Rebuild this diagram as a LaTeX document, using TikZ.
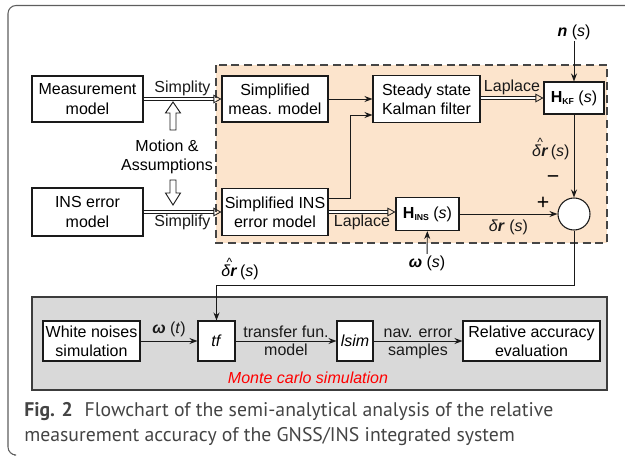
\documentclass[tikz,border=0pt]{standalone}
\usepackage{fontspec}
\setmainfont{Liberation Sans}
\newfontfamily\capfont{PT Sans}
\usetikzlibrary{arrows.meta, calc, positioning}
\definecolor{ink}{HTML}{1A1A1A}
\definecolor{frm}{HTML}{5E5E5E}
\definecolor{peach}{HTML}{FCE4CC}
\definecolor{zoneline}{HTML}{454545}
\definecolor{mcgray}{HTML}{D9D9D9}
\definecolor{capink}{HTML}{444444}
\tikzset{
  blk/.style={draw=ink, line width=0.8pt, fill=white, inner sep=0pt, align=center, font=\fontsize{12}{14.4}\selectfont},
  sz/.style 2 args={minimum width=#1*0.75pt, minimum height=#2*0.75pt},
  arr/.style={ink, line width=0.7pt, -{Stealth[length=6pt,width=4.5pt]}},
  dbl/.style={ink, double, double distance=1.6pt, line width=0.6pt, -{Triangle[open,length=6pt,width=6.5pt]}},
  lbl/.style={font=\fontsize{12}{14.4}\selectfont, inner sep=1pt, align=center},
  hol/.style={ink, line width=0.7pt, fill=white, line join=miter}
}
\newcommand{\vb}[1]{\textbf{\textit{#1}}}
\newcommand{\subtx}[1]{\raisebox{-0.3ex}{\fontsize{6.5}{7}\selectfont\bfseries #1}}
\newcommand{\drh}{\setbox0\hbox{\textit{δ}\vb{r}}\rlap{\hbox to\wd0{\hss\raisebox{0.62em}{\fontsize{9}{9}\selectfont\textasciicircum}\hss}}\box0}

\begin{document}
\begin{tikzpicture}[x=0.75pt, y=-0.75pt]
  \useasboundingbox (0,0) rectangle (625,458);
  \draw[frm, line width=0.8pt, rounded corners=6pt] (625,5.5) -- (8,5.5) -- (8,455) -- (14,455);

  \draw[zoneline, fill=peach, line width=1.6pt, dash pattern=on 6pt off 3.5pt] (216,65) rectangle (607,243);
  \draw[ink!85, fill=mcgray, line width=0.8pt] (32,297) rectangle (607,390);

  \node[blk, sz={111}{46}] (meas) at (87.5,99) {Measurement\\model};
  \node[blk, sz={111}{48}] (ins) at (87.5,212) {INS error\\model};
  \node[blk, sz={106}{46}] (smeas) at (275,99) {Simplified\\meas. model};
  \node[blk, sz={106}{47}] (sins) at (275,212) {Simplified INS\\error model};
  \node[blk, sz={107}{47}] (kal) at (426.5,99) {Steady state\\Kalman filter};
  \node[blk, sz={60}{32}] (hkf) at (574,98) {\textbf{H}\subtx{KF} (\textit{s})};
  \node[blk, sz={63}{33}] (hins) at (427.5,214) {\textbf{H}\subtx{INS} (\textit{s})};
  \node[draw=ink, line width=0.8pt, fill=white, circle, minimum size=32*0.75pt, inner sep=0pt] (sum) at (574,214) {};

  \node[blk, sz={97}{40}] (wn) at (91.5,341) {White noises\\simulation};
  \node[blk, sz={37}{40}] (tf) at (216.5,341) {\textit{tf}};
  \node[blk, sz={36}{40}] (lsim) at (355,341) {\textit{lsim}};
  \node[blk, sz={137}{40}] (rae) at (531.5,341) {Relative accuracy\\evaluation};

  \node[lbl] (ns) at (574,32) {\vb{n} (\textit{s})};
  \node[lbl] (ws) at (427,263) {\vb{ω} (\textit{s})};
  \node[lbl] (mot) at (167,156.5) {Motion \&\\Assumptions};
  \node[lbl, font=\fontsize{16}{16}\selectfont] (minus) at (553,180) {−};
  \node[lbl, font=\fontsize{16}{16}\selectfont] (plus) at (543,203) {+};
  \node[lbl] (drl) at (240,269) {\drh\,(\textit{s})};
  \node[lbl, text=red, font=\fontsize{12}{14.4}\selectfont\itshape] (mc) at (308,378) {Monte carlo simulation};

  \draw[hol] (170,130) -- (170,113) -- (165.5,113) -- (173,102) -- (180.5,113) -- (176,113) -- (176,130) -- cycle;
  \draw[hol] (170,180) -- (170,193) -- (165.5,193) -- (173,205) -- (180.5,193) -- (176,193) -- (176,180) -- cycle;

  \draw[dbl] (meas) -- (smeas) node[lbl, midway, above=1pt] {Simplity};
  \draw[dbl] (ins) -- (sins) node[lbl, midway, below=1pt] {Simplify};
  \draw[arr] (smeas) -- (kal);
  \draw[arr] ($(sins.east)+(0,-14)$) -| ($(kal.west)+(-22,16)$) -- ($(kal.west)+(0,16)$);
  \draw[dbl] (kal.east |- hkf.west) -- (hkf.west) node[lbl, midway, above=1pt] {Laplace};
  \draw[dbl] (sins.east) -- (sins.east -| hins.west) node[lbl, midway, below=1pt] {Laplace};
  \draw[arr] (hins) -- (sum) node[lbl, midway, below=3pt] {\textit{δ}\vb{r} (\textit{s})};
  \draw[arr] (ns) -- (hkf);
  \draw[arr] (hkf) -- (sum) node[lbl, pos=0.42, left=2pt] {\drh\,(\textit{s})};
  \draw[arr] (ws) -- (hins);
  \draw[arr] (sum.south) -- ++(0,55) -| (tf.north);

  \draw[arr] (wn) -- (tf) node[lbl, midway, above=2pt] {\vb{ω} (\textit{t})};
  \draw[arr] (tf) -- (lsim) node[lbl, midway, above=1pt] {transfer fun.} node[lbl, midway, below=1pt] {model};
  \draw[arr] (lsim) -- (rae) node[lbl, midway, above=1pt] {nav. error} node[lbl, midway, below=1pt] {samples};

  \node[anchor=west, inner sep=0pt, align=left, text=capink, font=\capfont\fontsize{14.8}{18.75}\selectfont] (cap) at (24,424.5)
    {\textbf{Fig. 2}\hspace{0.6em}Flowchart of the semi-analytical analysis of the relative\\measurement accuracy of the GNSS/INS integrated system};
\end{tikzpicture}
\end{document}
